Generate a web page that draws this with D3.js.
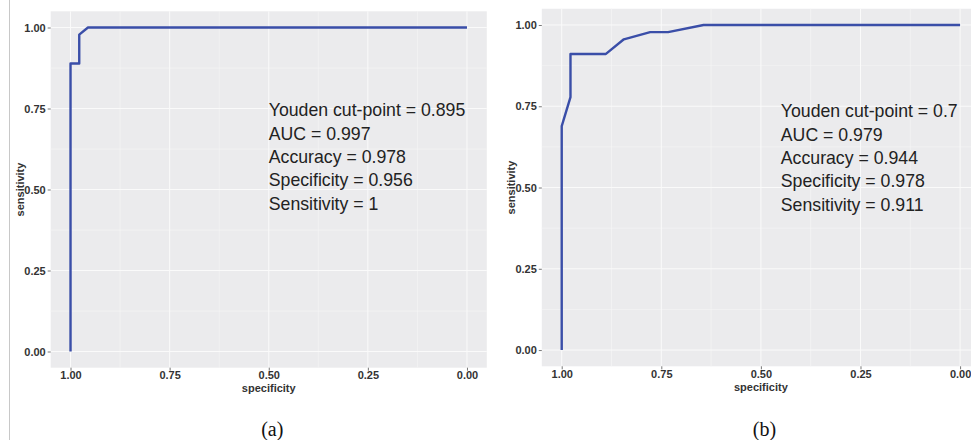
<!DOCTYPE html>
<html>
<head>
<meta charset="utf-8">
<script src="https://cdn.jsdelivr.net/npm/d3@7"></script>
<style>
  body { margin: 0; background: #fff; }
  text { font-family: "Liberation Sans", Arial, sans-serif; }
</style>
</head>
<body>
<svg id="chart" width="971" height="440"></svg>
<script>
// axis ticks (same on both panels)
const majorTicks = [1, 0.75, 0.5, 0.25, 0];
const minorTicks = [0.875, 0.625, 0.375, 0.125];

// panel (a)
const specA = [1, 1, 0.978, 0.978, 0.956, 0];
const sensA = [0, 0.889, 0.889, 0.978, 1, 1];
const statsA = ['Youden cut-point = 0.895', 'AUC = 0.997', 'Accuracy = 0.978', 'Specificity = 0.956', 'Sensitivity = 1'];

// panel (b)
const specB = [1, 1, 0.978, 0.978, 0.889, 0.844, 0.778, 0.733, 0.644, 0];
const sensB = [0, 0.689, 0.778, 0.911, 0.911, 0.956, 0.978, 0.978, 1, 1];
const statsB = ['Youden cut-point = 0.7', 'AUC = 0.979', 'Accuracy = 0.944', 'Specificity = 0.978', 'Sensitivity = 0.911'];

const svg = d3.select('#chart');

// thin frame line at the far left of the figure
svg.append('line')
  .attr('x1', 9.5).attr('x2', 9.5)
  .attr('y1', 0).attr('y2', 440)
  .attr('stroke', '#c8c8c8')
  .attr('stroke-width', 1);

function drawPanel(p) {
  const x = d3.scaleLinear().domain([1.05, -0.05]).range([p.left, p.right]);
  const y = d3.scaleLinear().domain([-0.05, 1.05]).range([p.bottom, p.top]);
  const g = svg.append('g');

  g.append('rect')
    .attr('x', p.left).attr('y', p.top)
    .attr('width', p.right - p.left).attr('height', p.bottom - p.top)
    .attr('fill', '#ebebed');

  // minor grid
  g.selectAll('.minx').data(minorTicks).enter().append('line')
    .attr('x1', d => x(d)).attr('x2', d => x(d))
    .attr('y1', p.top).attr('y2', p.bottom)
    .attr('stroke', '#f6f6f7').attr('stroke-width', 0.6);
  g.selectAll('.miny').data(minorTicks).enter().append('line')
    .attr('y1', d => y(d)).attr('y2', d => y(d))
    .attr('x1', p.left).attr('x2', p.right)
    .attr('stroke', '#f6f6f7').attr('stroke-width', 0.6);
  // major grid
  g.selectAll('.majx').data(majorTicks).enter().append('line')
    .attr('x1', d => x(d)).attr('x2', d => x(d))
    .attr('y1', p.top).attr('y2', p.bottom)
    .attr('stroke', '#fafafa').attr('stroke-width', 1);
  g.selectAll('.majy').data(majorTicks).enter().append('line')
    .attr('y1', d => y(d)).attr('y2', d => y(d))
    .attr('x1', p.left).attr('x2', p.right)
    .attr('stroke', '#fafafa').attr('stroke-width', 1);

  // axes
  const xAxis = g.append('g')
    .attr('transform', `translate(0,${p.bottom})`)
    .call(d3.axisBottom(x).tickValues(majorTicks).tickFormat(d3.format('.2f')).tickSize(3).tickPadding(1));
  const yAxis = g.append('g')
    .attr('transform', `translate(${p.left},0)`)
    .call(d3.axisLeft(y).tickValues(majorTicks).tickFormat(d3.format('.2f')).tickSize(3).tickPadding(2));
  [xAxis, yAxis].forEach(a => {
    a.select('.domain').remove();
    a.selectAll('line').attr('stroke', '#555').attr('stroke-width', 0.8);
    a.selectAll('text')
      .attr('fill', '#333')
      .style('font-size', '11px')
      .style('font-weight', 'bold')
      .style('font-family', '"Liberation Sans", Arial, sans-serif');
  });

  // axis titles
  g.append('text')
    .attr('x', (p.left + p.right) / 2).attr('y', p.bottom + 24.5)
    .attr('text-anchor', 'middle')
    .attr('fill', '#333')
    .style('font-size', '11px').style('font-weight', 'bold')
    .text('specificity');
  g.append('text')
    .attr('transform', `translate(${p.left - 27},${(p.top + p.bottom) / 2}) rotate(-90)`)
    .attr('text-anchor', 'middle')
    .attr('fill', '#333')
    .style('font-size', '11px').style('font-weight', 'bold')
    .text('sensitivity');

  // ROC curve
  const pts = p.spec.map((s, i) => [s, p.sens[i]]);
  g.append('path')
    .datum(pts)
    .attr('fill', 'none')
    .attr('stroke', '#3a4ea8')
    .attr('stroke-width', 2.4)
    .attr('stroke-linejoin', 'round')
    .attr('d', d3.line().x(d => x(d[0])).y(d => y(d[1])));

  // statistics block
  g.selectAll('.stat').data(p.stats).enter().append('text')
    .attr('x', x(p.textSpec))
    .attr('y', (d, i) => y(p.textSens) + i * 23.3)
    .attr('dy', '0.35em')
    .attr('fill', '#222')
    .style('font-size', '17.7px')
    .text(d => d);

  // caption
  svg.append('text')
    .attr('x', (p.left + p.right) / 2 + 3.5).attr('y', 436)
    .attr('text-anchor', 'middle')
    .attr('fill', '#111')
    .style('font-family', '"Liberation Serif", "Times New Roman", serif')
    .style('font-size', '20px')
    .text(p.caption);
}

drawPanel({ left: 50.7, right: 486.8, top: 11.3, bottom: 367.7,
  spec: specA, sens: sensA, stats: statsA, textSpec: 0.5, textSens: 0.745, caption: '(a)' });
drawPanel({ left: 541.8, right: 980, top: 8.75, bottom: 366.3,
  spec: specB, sens: sensB, stats: statsB, textSpec: 0.45, textSens: 0.735, caption: '(b)' });
</script>
</body>
</html>
